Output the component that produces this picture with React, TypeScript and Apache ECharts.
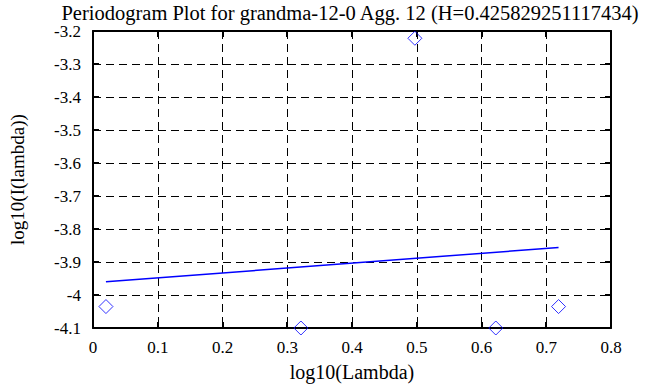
import React, { useEffect, useRef } from "react";
import * as echarts from "echarts";

const titleText = "Periodogram Plot for grandma-12-0 Agg. 12 (H=0.425829251117434)";
const xName = "log10(Lambda)";
const yName = "log10(I(lambda))";

const pointX = [0.0200, 0.3211, 0.4971, 0.6221, 0.7190];
const pointY = [-4.035, -4.1, -3.222, -4.1, -4.035];

const fitX = [0.0200, 0.7190];
const fitY = [-3.960, -3.856];

const FONT = "Liberation Serif";

export default function App() {
  const ref = useRef<HTMLDivElement>(null);
  useEffect(() => {
    if (!ref.current) return;
    const chart = echarts.init(ref.current, null, { renderer: "svg" });
    const axisLine = { show: true, onZero: false, lineStyle: { color: "#000", width: 2 } };
    const tick = { show: true, inside: true, length: 6, lineStyle: { color: "#000", width: 2 } };
    const label = { color: "#000", fontFamily: FONT, fontSize: 17 };
    chart.setOption({
      animation: false,
      backgroundColor: "#fff",
      title: {
        text: titleText,
        left: 345,
        textAlign: "center",
        top: -3,
        textStyle: { color: "#000", fontFamily: FONT, fontSize: 20.5, fontWeight: "normal" },
      },
      grid: { left: 82, right: 57, top: 31, bottom: 57, containLabel: false },
      xAxis: [
        {
          type: "value",
          min: 0,
          max: 0.8,
          interval: 0.1,
          position: "bottom",
          name: xName,
          nameLocation: "middle",
          nameGap: 34,
          nameTextStyle: { color: "#000", fontFamily: FONT, fontSize: 20 },
          axisLine,
          axisTick: tick,
          axisLabel: { ...label, margin: 11 },
          splitLine: { show: true, lineStyle: { color: "#000", type: [8, 5], width: 1 } },
        },
        {
          type: "value",
          min: 0,
          max: 0.8,
          interval: 0.1,
          position: "top",
          axisLine,
          axisTick: tick,
          axisLabel: { show: false },
          splitLine: { show: false },
        },
      ],
      yAxis: [
        {
          type: "value",
          min: -4.1,
          max: -3.2,
          interval: 0.1,
          position: "left",
          name: yName,
          nameLocation: "middle",
          nameGap: 66,
          nameTextStyle: { color: "#000", fontFamily: FONT, fontSize: 19 },
          axisLine,
          axisTick: tick,
          axisLabel: { ...label, margin: 12, formatter: (v: number) => String(Math.round(v * 10) / 10) },
          splitLine: { show: true, lineStyle: { color: "#000", type: [8, 5], width: 1 } },
        },
        {
          type: "value",
          min: -4.1,
          max: -3.2,
          interval: 0.1,
          position: "right",
          axisLine,
          axisTick: tick,
          axisLabel: { show: false },
          splitLine: { show: false },
        },
      ],
      series: [
        {
          type: "line",
          data: fitX.map((x, i) => [x, fitY[i]]),
          showSymbol: false,
          symbol: "none",
          lineStyle: { color: "#0000ff", width: 1.5 },
          z: 3,
        },
        {
          type: "scatter",
          data: pointX.map((x, i) => [x, pointY[i]]),
          symbol: "diamond",
          symbolSize: 14,
          clip: false,
          itemStyle: { color: "rgba(0,0,0,0)", borderColor: "#0000ff", borderWidth: 1 },
          z: 4,
        },
      ],
    });
    return () => chart.dispose();
  }, []);
  return <div ref={ref} style={{ width: 668, height: 387, position: "absolute", left: 0, top: 0 }} />;
}
